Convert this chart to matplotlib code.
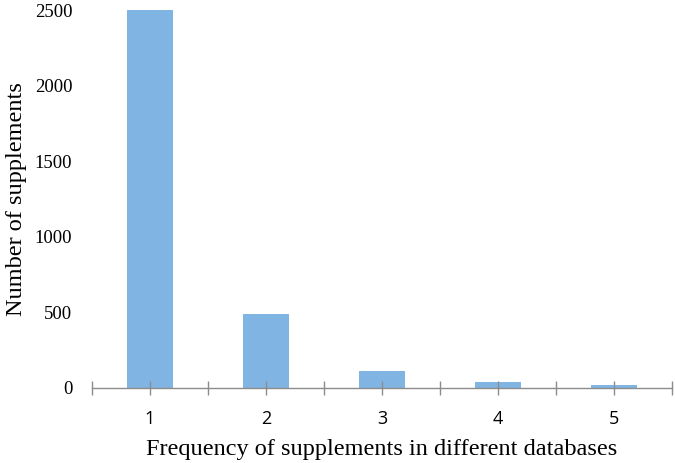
import matplotlib
matplotlib.use("Agg")
import matplotlib.pyplot as plt
import numpy as np

# values
categories = ["1", "2", "3", "4", "5"]
counts = [2510, 490, 112, 38, 20]
yticks = [0, 500, 1000, 1500, 2000, 2500]

fig = plt.figure(figsize=(6.75, 4.63), dpi=100)
ax = fig.add_axes([0.136, 0.162, 0.86, 0.816])

x = np.arange(1, len(categories) + 1)
ax.bar(x, counts, width=0.4, color="#80B5E3")

ax.set_xlim(0.5, 5.5)
ax.set_ylim(0, 2500)

for side in ["top", "right", "left"]:
    ax.spines[side].set_visible(False)
ax.spines["bottom"].set_color("#8c8c8c")
ax.spines["bottom"].set_linewidth(1.0)

ax.set_yticks(yticks)
ax.set_yticklabels([str(v) for v in yticks], family="Liberation Serif", fontsize=13.5)
ax.tick_params(axis="y", length=0, pad=14)

ax.set_xticks(x)
ax.set_xticklabels(categories, family="Open Sans", fontsize=13)
ax.set_xticks(np.arange(0.5, 6.0, 1.0), minor=True)
ax.tick_params(axis="x", which="both", direction="inout", length=10,
               color="#8c8c8c", width=1.0, pad=10.5)

ax.set_xlabel("Frequency of supplements in different databases",
              family="Liberation Serif", fontsize=17.5, labelpad=8)
ax.set_ylabel("Number of supplements", family="Liberation Serif",
              fontsize=17.5, labelpad=6)

fig.savefig("out.png", dpi=100)
